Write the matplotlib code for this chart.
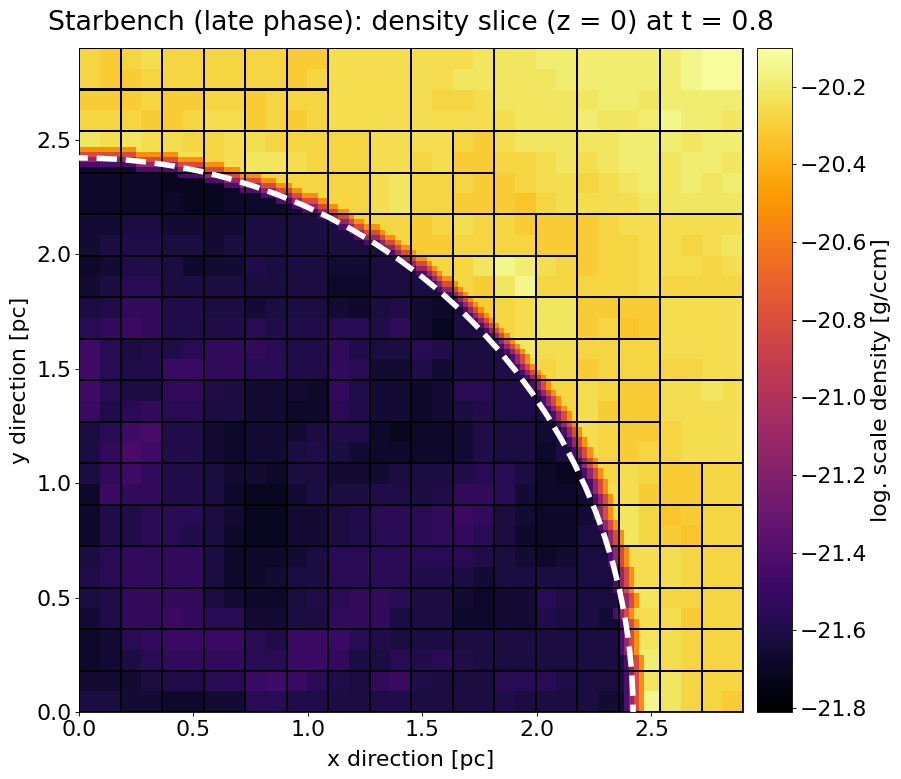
import numpy as np
import matplotlib
matplotlib.use("Agg")
import matplotlib.pyplot as plt
from matplotlib.patches import Rectangle, Circle

W, H = 901, 779
BOX = 2.9
NFINE = 128
FRONT_RADIUS = 2.42
VMIN, VMAX = -21.81, -20.10

# density levels for the digits used in the tables below (log10 g/ccm)
inner_levels = [-21.71, -21.68, -21.65, -21.62, -21.59, -21.56, -21.53, -21.50, -21.47, -21.44]
outer_levels = [-20.38, -20.34, -20.31, -20.28, -20.25, -20.22, -20.19, -20.15, -20.12, -20.10]
shell_levels = [-21.42, -21.12, -20.82, -20.52]

# top row first, 32 x 32
inner_rows = [
    "11111111111111111111111111111111",
    "11111111111111111111111111111111",
    "11111111111111111111111111111111",
    "11111111111111111111111111111111",
    "11111111111111111111111111111111",
    "11110011223333333333333333333333",
    "11110000112233333333333333333333",
    "11111001112333333333333333333333",
    "22332222333333333333333333333333",
    "23443323333333333333333333333333",
    "12443122433322333333333333333333",
    "23553333333311333333333333333333",
    "34664433233321342134443333333333",
    "56764444544455462034443333333333",
    "85344566654464335433443333333333",
    "85447766554465224233443333333333",
    "85336643222164221255444333333333",
    "74565533221154221234443333333333",
    "35894421222344101124332333333333",
    "36984421223432111124331333333333",
    "36864432213322233345531022333333",
    "17664431002333443466521122333333",
    "14455532002234555676321122333333",
    "14455431002234555665311133333333",
    "35666631112355555554321233333333",
    "45666631123355554432333333333333",
    "34666632113456653321225433333333",
    "24667655223366633311224332223333",
    "12567777547775433333333333333333",
    "12356666557763354543333333333333",
    "22234455787543674333555433333333",
    "33221122554433443333433332223333",
]
outer_rows = [
    "32343333332244444445556666666788",
    "32233333332344444455555666666788",
    "22232233233344444334555556656666",
    "33322344232344444444455565567665",
    "54544334433333444432455555666566",
    "33444434554333443422334545665665",
    "33333333333333453332234434565656",
    "33333333333333453322213444455555",
    "33333333333333332343322223444444",
    "33333333333333332233332223344345",
    "33333333333333333335764323344434",
    "33333333333333333332573333343333",
    "33333333333333333322345522224444",
    "33333333333333333332345523124444",
    "33333333333333333334454433334444",
    "33333333333333333333443423333344",
    "33333333333333333333333343224454",
    "33333333333333333333333342224444",
    "33333333333333333333333343223444",
    "33333333333333333333333343233444",
    "33333333333333333333333343432233",
    "33333333333333333333333344422233",
    "33333333333333333333333344531233",
    "33333333333333333333333334532133",
    "33333333333333333333333333444333",
    "33333333333333333333333333444333",
    "33333333333333333333333333553333",
    "33333333333333333333333333444233",
    "33333333333333333333333333454333",
    "33333333333333333333333333564333",
    "33333333333333333333333333455333",
    "33333333333333333333333333475332",
]
# first non-dark fine cell in each fine row, from y = 0 upward
front_column = [
    105, 105, 105, 105, 105, 105, 105, 105, 105, 105,
    105, 104, 104, 104, 104, 104, 104, 104, 103, 103,
    104, 104, 104, 103, 103, 103, 103, 103, 102, 102,
    102, 102, 101, 101, 101, 100, 100, 99, 99, 99,
    99, 99, 98, 98, 98, 97, 97, 96, 96, 95,
    95, 94, 94, 93, 93, 92, 91, 91, 90, 89,
    89, 88, 87, 87, 86, 85, 84, 83, 83, 82,
    81, 80, 79, 78, 77, 76, 75, 74, 73, 72,
    70, 69, 68, 67, 65, 64, 62, 61, 59, 58,
    55, 53, 52, 50, 48, 46, 43, 41, 38, 35,
    31, 28, 24, 19, 11,
]
# root blocks (column, row from y = 0) that are split into four
refined_roots = [
    (0, 7), (1, 7), (2, 7),
    (0, 6), (1, 6), (2, 6), (3, 6), (4, 6),
    (0, 5), (1, 5), (2, 5), (3, 5), (4, 5), (5, 5),
    (0, 4), (1, 4), (2, 4), (3, 4), (4, 4), (5, 4), (6, 4),
    (0, 3), (1, 3), (2, 3), (3, 3), (4, 3), (5, 3), (6, 3),
    (0, 2), (1, 2), (2, 2), (3, 2), (4, 2), (5, 2), (6, 2), (7, 2),
    (0, 1), (1, 1), (2, 1), (3, 1), (4, 1), (5, 1), (6, 1), (7, 1),
    (0, 0), (1, 0), (2, 0), (3, 0), (4, 0), (5, 0), (6, 0), (7, 0),
]
xticks = [0.0, 0.5, 1.0, 1.5, 2.0, 2.5]
cticks = [-21.8, -21.6, -21.4, -21.2, -21.0, -20.8, -20.6, -20.4, -20.2]


def table(rows, levels):
    return np.array([[levels[int(c)] for c in r] for r in rows[::-1]])


scale = NFINE // 32
inner = np.repeat(np.repeat(table(inner_rows, inner_levels), scale, 0), scale, 1)
density = np.repeat(np.repeat(table(outer_rows, outer_levels), scale, 0), scale, 1)

dark = np.zeros((NFINE, NFINE), bool)
for j, col in enumerate(front_column):
    dark[j, :col] = True
density[dark] = inner[dark]
grown = dark.copy()
for level in shell_levels:
    wider = grown.copy()
    wider[1:, :] |= grown[:-1, :]
    wider[:, 1:] |= grown[:, :-1]
    density[wider & ~grown] = level
    grown = wider

fig = plt.figure(figsize=(W / 72, H / 72), dpi=72, facecolor="white")
ax = fig.add_axes([79 / W, 1 - 712 / H, 664 / W, 664 / H])
cax = fig.add_axes([757 / W, 1 - 712 / H, 35 / W, 664 / H])

edges = np.linspace(0, BOX, NFINE + 1)
mesh = ax.pcolormesh(edges, edges, density, cmap="inferno", vmin=VMIN, vmax=VMAX, shading="flat")

root = BOX / 8
for i in range(8):
    for j in range(8):
        if (i, j) in refined_roots:
            for a in range(2):
                for b in range(2):
                    ax.add_patch(Rectangle(((i + a / 2) * root, (j + b / 2) * root), root / 2, root / 2,
                                           fill=False, ec="black", lw=2.0, zorder=3))
        else:
            ax.add_patch(Rectangle((i * root, j * root), root, root,
                                   fill=False, ec="black", lw=2.0, zorder=3))

ax.add_patch(Circle((0, 0), FRONT_RADIUS, fill=False, ec="white", lw=5.5,
                    linestyle=(3.1, (3.7, 1.6)), zorder=4))

ax.set_xlim(0, BOX)
ax.set_ylim(0, BOX)
ax.set_xticks(xticks)
ax.set_yticks(xticks)
ax.tick_params(labelsize=22, length=3.85, width=0.88, pad=3.85)
ax.set_xlabel("x direction [pc]", fontsize=22, labelpad=10)
ax.set_ylabel("y direction [pc]", fontsize=22, labelpad=6)
ax.set_title("Starbench (late phase): density slice (z = 0) at t = 0.8", fontsize=26.7, pad=18)
for spine in ax.spines.values():
    spine.set_linewidth(0.88)

cb = fig.colorbar(mesh, cax=cax)
cb.set_ticks(cticks)
cb.ax.tick_params(labelsize=22, length=3.85, width=0.88, pad=3.85)
cb.set_label("log. scale density [g/ccm]", fontsize=22, labelpad=4)
cb.outline.set_linewidth(0.88)

fig.savefig("out.png", dpi=72, facecolor="white")
